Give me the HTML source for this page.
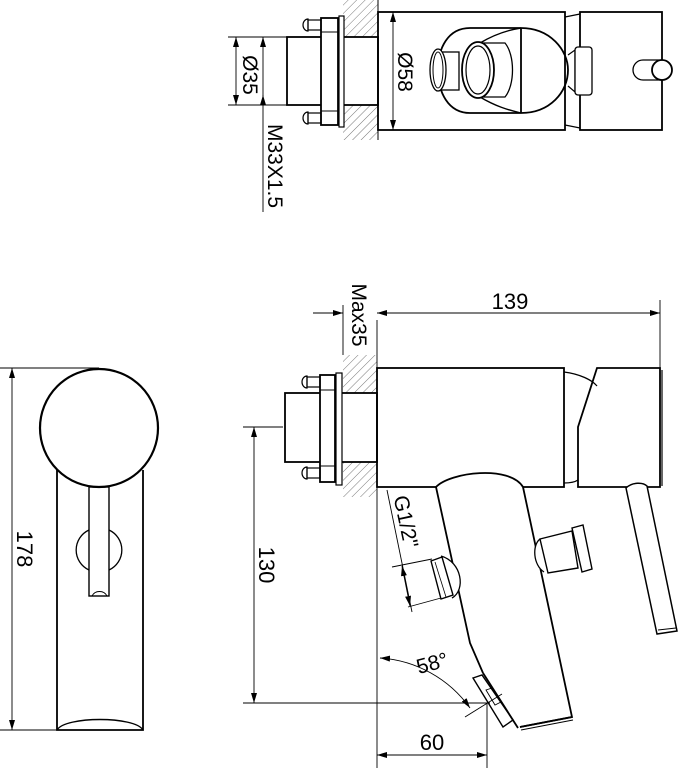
<!DOCTYPE html>
<html><head><meta charset="utf-8"><style>
html,body{margin:0;padding:0;background:#fff}
svg{display:block}
text{font-family:"Liberation Sans",sans-serif;fill:#000}
</style></head><body>
<svg width="678" height="768" viewBox="0 0 678 768" xmlns="http://www.w3.org/2000/svg">
<defs>
<pattern id="h" width="6" height="6" patternUnits="userSpaceOnUse" patternTransform="rotate(45)">
<line x1="0" y1="0" x2="0" y2="6" stroke="#555" stroke-width="0.8"/>
</pattern>
<marker id="a" viewBox="0 0 10 6" refX="10" refY="3" markerWidth="10" markerHeight="6" orient="auto-start-reverse" markerUnits="userSpaceOnUse">
<path d="M0,0 L10,3 L0,6Z" fill="#000"/>
</marker>
</defs>
<g fill="none" stroke="#000" stroke-width="1.8">

<rect x="343" y="0" width="35" height="37" fill="url(#h)" stroke="none"/>
<rect x="343" y="105" width="35" height="35" fill="url(#h)" stroke="none"/>
<line x1="378" y1="0" x2="378" y2="140" stroke-width="1"/>
<rect x="287" y="37" width="91" height="68" fill="#fff"/>
<rect x="321" y="18" width="17" height="107" fill="#fff"/>
<line x1="321" y1="32" x2="338" y2="32" stroke-width="1"/>
<line x1="321" y1="111" x2="338" y2="111" stroke-width="1"/>
<rect x="339" y="16" width="5" height="111" fill="#fff" stroke-width="1.2"/>
<rect x="308" y="20" width="13" height="10" stroke-width="1.2"/>
<path d="M308,19 A5,6 0 0 0 308,31Z" stroke-width="1.2"/>
<rect x="308" y="113" width="13" height="10" stroke-width="1.2"/>
<path d="M308,112 A5,6 0 0 0 308,124Z" stroke-width="1.2"/>

<rect x="378" y="12" width="187" height="118"/>
<path d="M565,17 L580,14 M565,125 L580,128" stroke-width="1.2"/>
<rect x="580" y="12" width="82" height="118"/>
<path d="M470,28 L521,28 C550,28 568,50 568,70 C568,92 550,113 521,113 L470,113 C448,113 438,92 438,70 C438,48 448,28 470,28Z"/>
<line x1="521" y1="28" x2="521" y2="113"/>
<path d="M480,43 C495,34 508,30 521,28 M480,97 C495,106 508,110 521,113" stroke-width="1.4"/>
<path d="M480,43 L505,43 C515,55 515,85 505,97 L480,97" stroke-width="1.3"/>
<ellipse cx="478" cy="70" rx="16" ry="28" fill="#fff"/>
<ellipse cx="478" cy="70" rx="12" ry="24" stroke-width="1.2"/>
<rect x="441" y="52" width="18" height="38" fill="#fff" stroke-width="1.3"/>
<ellipse cx="438" cy="70" rx="8" ry="21" fill="#fff" stroke-width="1.3"/>
<ellipse cx="438" cy="70" rx="5" ry="18" stroke-width="1"/>
<path d="M568,55 L575,50 L575,92 L568,86" stroke-width="1.2"/>
<rect x="575" y="47" width="17" height="48" rx="3" fill="#fff" stroke-width="1.3"/>
<path d="M662,60 L643,60 A10,10 0 0 0 643,80 L662,80" stroke-width="1.3"/>
<circle cx="662" cy="70" r="10" fill="#fff"/>

<g stroke-width="0.9">
<line x1="228" y1="37" x2="287" y2="37"/>
<line x1="228" y1="105" x2="287" y2="105"/>
<line x1="236" y1="37" x2="236" y2="105" marker-start="url(#a)" marker-end="url(#a)"/>
<line x1="263" y1="37" x2="263" y2="212" marker-start="url(#a)"/>
<line x1="263" y1="105" x2="263" y2="95" marker-end="url(#a)"/>
<line x1="393" y1="12" x2="393" y2="130" marker-start="url(#a)" marker-end="url(#a)"/>
</g>

<rect x="343" y="355" width="34" height="38" fill="url(#h)" stroke="none"/>
<rect x="343" y="462" width="34" height="35" fill="url(#h)" stroke="none"/>
<rect x="285" y="393" width="92" height="69" fill="#fff"/>
<rect x="320" y="375" width="15" height="107" fill="#fff"/>
<line x1="320" y1="390" x2="335" y2="390" stroke-width="1"/>
<line x1="320" y1="466" x2="335" y2="466" stroke-width="1"/>
<rect x="336" y="373" width="6" height="112" fill="#fff" stroke-width="1.2"/>
<rect x="307" y="377" width="13" height="10" stroke-width="1.2"/>
<path d="M307,376 A5,6 0 0 0 307,388Z" stroke-width="1.2"/>
<rect x="307" y="468" width="13" height="10" stroke-width="1.2"/>
<path d="M307,467 A5,6 0 0 0 307,479Z" stroke-width="1.2"/>

<rect x="377" y="368" width="187" height="119"/>
<path d="M564,372 C580,374 592,380 597,386 M564,483 C570,483 575,482 578,480" stroke-width="1.3"/>
<path d="M597,368 L660,368 L660,487 L578,487 L578,427 Z"/>
<line x1="662" y1="370" x2="662" y2="486" stroke-width="1.2"/>

<path d="M436,487 C450,472 510,465 523,487 L572,717 L520,727 M483,673 L470,643 L436,487" fill="#fff"/>
<path d="M520,727 L572,717" />
<path d="M521,730 L573,720" stroke-width="1"/>
<path d="M473,678 L482,675 L513,720 L503,727 Z" fill="#fff" stroke-width="1.4"/>
<path d="M483,673 L518,728" />
<path d="M486,690 L492,688 L501,702 L495,705 Z" stroke-width="0.9"/>

<path d="M441,556 C462,562 466,590 452,598" fill="#fff" stroke-width="1.3"/>
<path d="M431,561 L442,557 L453,595 L441,599 Z" fill="#fff" stroke-width="1.4"/>
<path d="M435,562 L446,597" stroke-width="0.8"/>

<path d="M540,539 C532,545 533,565 544,572" fill="#fff" stroke-width="1.3"/>
<path d="M540,539 L572,531 L578,568 L548,573 Z" fill="#fff" stroke-width="1.4"/>
<path d="M572,528 L583,525 L592,569 L582,572 Z" fill="#fff" stroke-width="1.4"/>

<path d="M626,488 C632,482 643,482 647,486 L677,631 L657,634 Z" fill="#fff" stroke-width="1.5"/>
<path d="M658,630 L676,628" stroke-width="0.9"/>

<g stroke-width="0.9">
<line x1="377" y1="320" x2="377" y2="768"/>
<line x1="343" y1="305" x2="343" y2="355"/>
<line x1="660" y1="300" x2="660" y2="368"/>
<line x1="313" y1="313" x2="343" y2="313" marker-end="url(#a)"/>
<line x1="660" y1="313" x2="377" y2="313" marker-start="url(#a)" marker-end="url(#a)"/>
<line x1="243" y1="427" x2="283" y2="427"/>
<line x1="243" y1="703" x2="490" y2="703"/>
<line x1="254" y1="427" x2="254" y2="703" marker-start="url(#a)" marker-end="url(#a)"/>
<line x1="487" y1="703" x2="487" y2="768"/>
<line x1="377" y1="755" x2="487" y2="755" marker-start="url(#a)" marker-end="url(#a)"/>
<path d="M380,658 A120,120 0 0 1 470,708" marker-start="url(#a)" marker-end="url(#a)"/>
<line x1="465" y1="717" x2="502" y2="694"/>
<line x1="387" y1="490" x2="412" y2="612"/>
<line x1="392" y1="567" x2="432" y2="559"/>
<line x1="408" y1="607" x2="441" y2="598"/>
<line x1="402" y1="566" x2="410" y2="606" marker-start="url(#a)" marker-end="url(#a)"/>
</g>

<path d="M57,470 L57,730 L143,730 L143,470"/>
<path d="M57,730 C65,716 135,716 143,730" stroke-width="1.4"/>
<path d="M89,530 A22,22 0 0 0 89,570 M109,530 A22,22 0 0 1 109,570" stroke-width="1.3"/>
<rect x="89" y="487" width="20" height="109" fill="#fff" stroke-width="1.4"/>
<path d="M92,596 C95,590 104,590 107,596" stroke-width="1"/>
<circle cx="99" cy="428" r="59" fill="#fff" stroke-width="2.2"/>
<g stroke-width="0.9">
<line x1="0" y1="368" x2="99" y2="368"/>
<line x1="0" y1="730" x2="57" y2="730"/>
<line x1="12" y1="368" x2="12" y2="730" marker-start="url(#a)" marker-end="url(#a)"/>
</g>
</g>

<g font-size="21">
<text transform="translate(243,75) rotate(90)" text-anchor="middle">Ø35</text>
<text transform="translate(268,166) rotate(90)" text-anchor="middle">M33X1.5</text>
<text transform="translate(398,72) rotate(90)" text-anchor="middle">Ø58</text>
<text x="510" y="309" text-anchor="middle" font-size="22">139</text>
<text transform="translate(352,315) rotate(90)" text-anchor="middle">Max35</text>
<text transform="translate(259,565) rotate(90)" text-anchor="middle" font-size="22">130</text>
<text transform="translate(17,549) rotate(90)" text-anchor="middle" font-size="22">178</text>
<text x="432" y="750" text-anchor="middle" font-size="22">60</text>
<text transform="translate(434,670) rotate(-15)" text-anchor="middle" font-size="21">58°</text>
<text transform="translate(399,523) rotate(78)" text-anchor="middle">G1/2"</text>
</g>
</svg>
</body></html>
